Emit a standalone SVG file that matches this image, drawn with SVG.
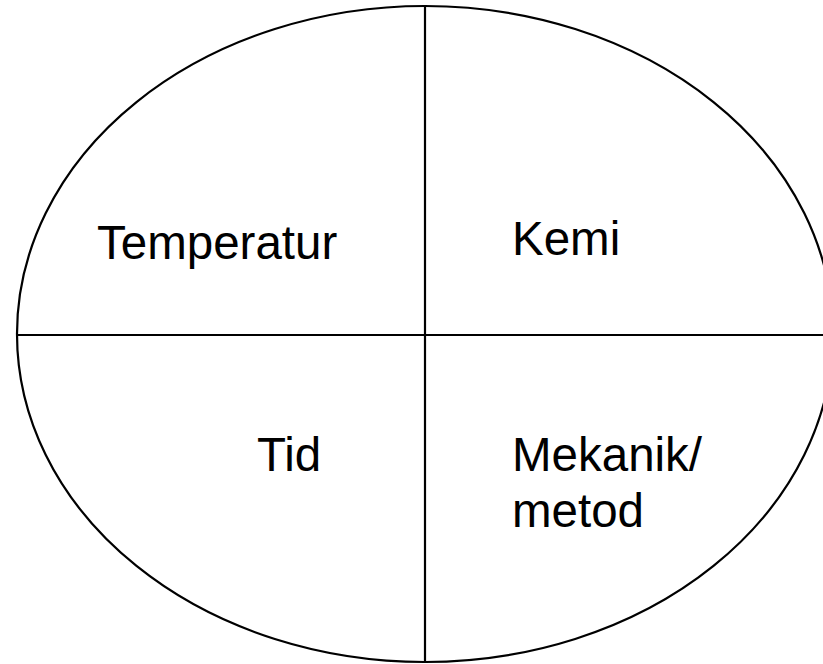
<svg xmlns="http://www.w3.org/2000/svg" width="823" height="664" viewBox="0 0 823 664">
<style>
.ln{fill:none;stroke:#000;stroke-width:2.2}
.t{font-family:"Liberation Sans",Arial,sans-serif;font-size:47.5px;fill:#000}
</style>
<rect width="823" height="664" fill="#fff"/>
<g id="ellipse"><ellipse class="ln" cx="425" cy="334" rx="408" ry="328"/></g>
<g id="connectors">
<line class="ln" x1="425" y1="6" x2="425" y2="662"/>
<line class="ln" x1="17" y1="335" x2="823" y2="335"/>
</g>
<g id="temperatur"><text class="t" x="97" y="259">Temperatur</text></g>
<g id="kemi"><text class="t" x="512" y="255">Kemi</text></g>
<g id="tid"><text class="t" x="257" y="471">Tid</text></g>
<g id="mekanik"><text class="t" x="512" y="471">Mekanik/</text><text class="t" x="512" y="527">metod</text></g>
</svg>
